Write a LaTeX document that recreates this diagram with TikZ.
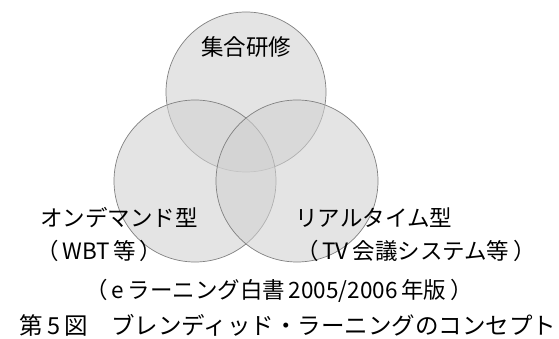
\documentclass[tikz,border=0pt]{standalone}
\usepackage{fontspec}
\setmainfont{Noto Sans CJK JP}
\begin{document}
\begin{tikzpicture}[x=1pt,y=-1pt,
  venn/.style={draw=black!50, line width=0.7pt, fill={rgb,255:red,210;green,210;blue,210}, fill opacity=0.58},
  lbl/.style={font=\fontsize{22.5}{26}\selectfont, inner sep=0pt, text=black}]
\useasboundingbox (0,0) rectangle (559,339);
\fill[white] (0,0) rectangle (559,339);
\node[venn, circle, minimum size=160pt, inner sep=0pt] (top) at (246,92) {};
\node[venn, circle, minimum size=162pt, inner sep=0pt] (left) at (195,181) {};
\node[venn, circle, minimum size=162pt, inner sep=0pt] (right) at (297,181) {};
\node[lbl] (t1) at (246,47) {集合研修};
\node[lbl, anchor=west] (t2) at (40,218) {オンデマンド型};
\node[lbl, anchor=west] (t3) at (36,251) {（\,WBT\,等\,）};
\node[lbl, anchor=west] (t4) at (295,218) {リアルタイム型};
\node[lbl, anchor=west] (t5) at (296,251) {（\,TV\,会議システム等\,）};
\node[lbl] (t6) at (279,291) {（\,e\,ラーニング白書\,2005/2006\,年版\,）};
\node[lbl, font=\fontsize{23.5}{26}\selectfont] (t7) at (288,325) {第\,5\,図　ブレンディッド・ラーニングのコンセプト};
\end{tikzpicture}
\end{document}
